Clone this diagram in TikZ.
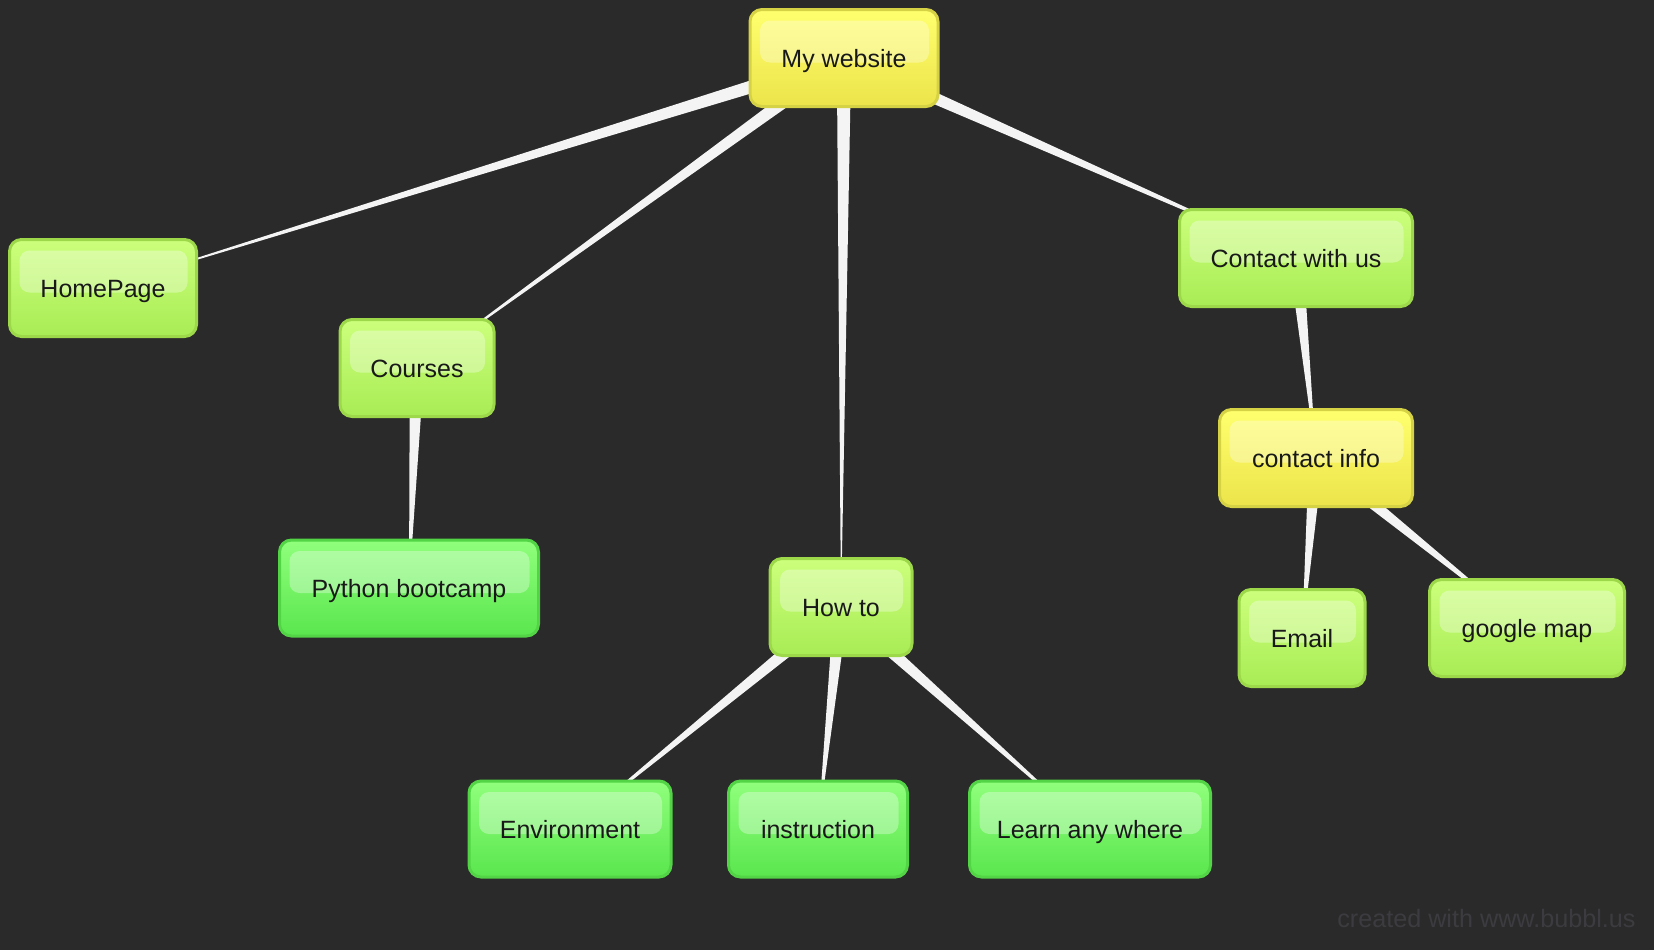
\documentclass[tikz,border=0pt]{standalone}
\usepackage{fontspec}
\setmainfont{Liberation Sans}
\usetikzlibrary{calc}
\definecolor{bg}{HTML}{2A2A2A}
\definecolor{ytop}{HTML}{FFFF6E}
\definecolor{ybot}{HTML}{ECE44A}
\definecolor{ybrd}{HTML}{D6D246}
\definecolor{gytop}{HTML}{CCFF7C}
\definecolor{gybot}{HTML}{A8EC55}
\definecolor{gybrd}{HTML}{9CD84A}
\definecolor{gtop}{HTML}{90FF7C}
\definecolor{gbot}{HTML}{5AE64E}
\definecolor{gbrd}{HTML}{52D446}
\definecolor{wedge}{HTML}{F4F4F4}
\definecolor{wm}{HTML}{3C3C40}
\tikzset{
  bub/.style={rounded corners=6pt, line width=1.5pt, inner sep=0pt,
    text height=9pt, text depth=0pt,
    font=\fontsize{12.5pt}{15pt}\selectfont, text=black!90,
    path picture={\fill[white,opacity=0.32,rounded corners=5pt]
      ([xshift=5pt,yshift=-5.5pt]path picture bounding box.north west) rectangle
      ([xshift=-4.5pt,yshift=-26.5pt]path picture bounding box.north east);}},
  yel/.style={bub, draw=ybrd, top color=ytop, bottom color=ybot},
  gy/.style={bub, draw=gybrd, top color=gytop, bottom color=gybot},
  gr/.style={bub, draw=gbrd, top color=gtop, bottom color=gbot},
  sz/.style 2 args={minimum width=#1*0.5pt, minimum height=#2*0.5pt}
}
\newcommand{\wedgeline}[2]{%
  \fill[wedge] ($(#1)!3.6pt!90:(#2)$) -- (#2) -- ($(#1)!3.6pt!-90:(#2)$) -- cycle;}
\begin{document}
\begin{tikzpicture}[x=0.5pt,y=-0.5pt]
\fill[bg] (0,0) rectangle (1654,950);
\useasboundingbox (0,0) rectangle (1654,950);
% coordinates for node centers
\coordinate (cweb) at (844,58);
\coordinate (chome) at (103,288);
\coordinate (ccourses) at (417,368);
\coordinate (cpython) at (409,588);
\coordinate (chowto) at (841,607);
\coordinate (cenv) at (570,829);
\coordinate (cinstr) at (818,829);
\coordinate (clearn) at (1090,829);
\coordinate (ccontact) at (1296,258);
\coordinate (cinfo) at (1316,458);
\coordinate (cemail) at (1302,638);
\coordinate (cgmap) at (1527,628);
% connectors (tapered wedges)
\wedgeline{cweb}{chome}
\wedgeline{cweb}{ccourses}
\wedgeline{cweb}{chowto}
\wedgeline{cweb}{ccontact}
\wedgeline{ccourses}{cpython}
\wedgeline{chowto}{cenv}
\wedgeline{chowto}{cinstr}
\wedgeline{chowto}{clearn}
\wedgeline{ccontact}{cinfo}
\wedgeline{cinfo}{cemail}
\wedgeline{cinfo}{cgmap}
% nodes
\node[yel, sz={188}{97}] (web) at (cweb) {My website};
\node[gy, sz={187}{97}] (home) at (chome) {HomePage};
\node[gy, sz={154}{97}] (courses) at (ccourses) {Courses};
\node[gr, sz={259}{96}] (python) at (cpython) {Python bootcamp};
\node[gy, sz={142}{97}] (howto) at (chowto) {How to};
\node[gr, sz={202}{96}] (env) at (cenv) {Environment};
\node[gr, sz={179}{96}] (instr) at (cinstr) {instruction};
\node[gr, sz={241}{96}] (learn) at (clearn) {Learn any where};
\node[gy, sz={233}{97}] (contact) at (ccontact) {Contact with us};
\node[yel, sz={193}{97}] (info) at (cinfo) {contact info};
\node[gy, sz={126}{97}] (email) at (cemail) {Email};
\node[gy, sz={195}{97}] (gmap) at (cgmap) {google map};
% watermark
\node[anchor=east, text=wm, inner sep=0pt, font=\fontsize{12.6pt}{15pt}\selectfont] (wmark) at (1636,918) {created with www.bubbl.us};
\end{tikzpicture}
\end{document}
